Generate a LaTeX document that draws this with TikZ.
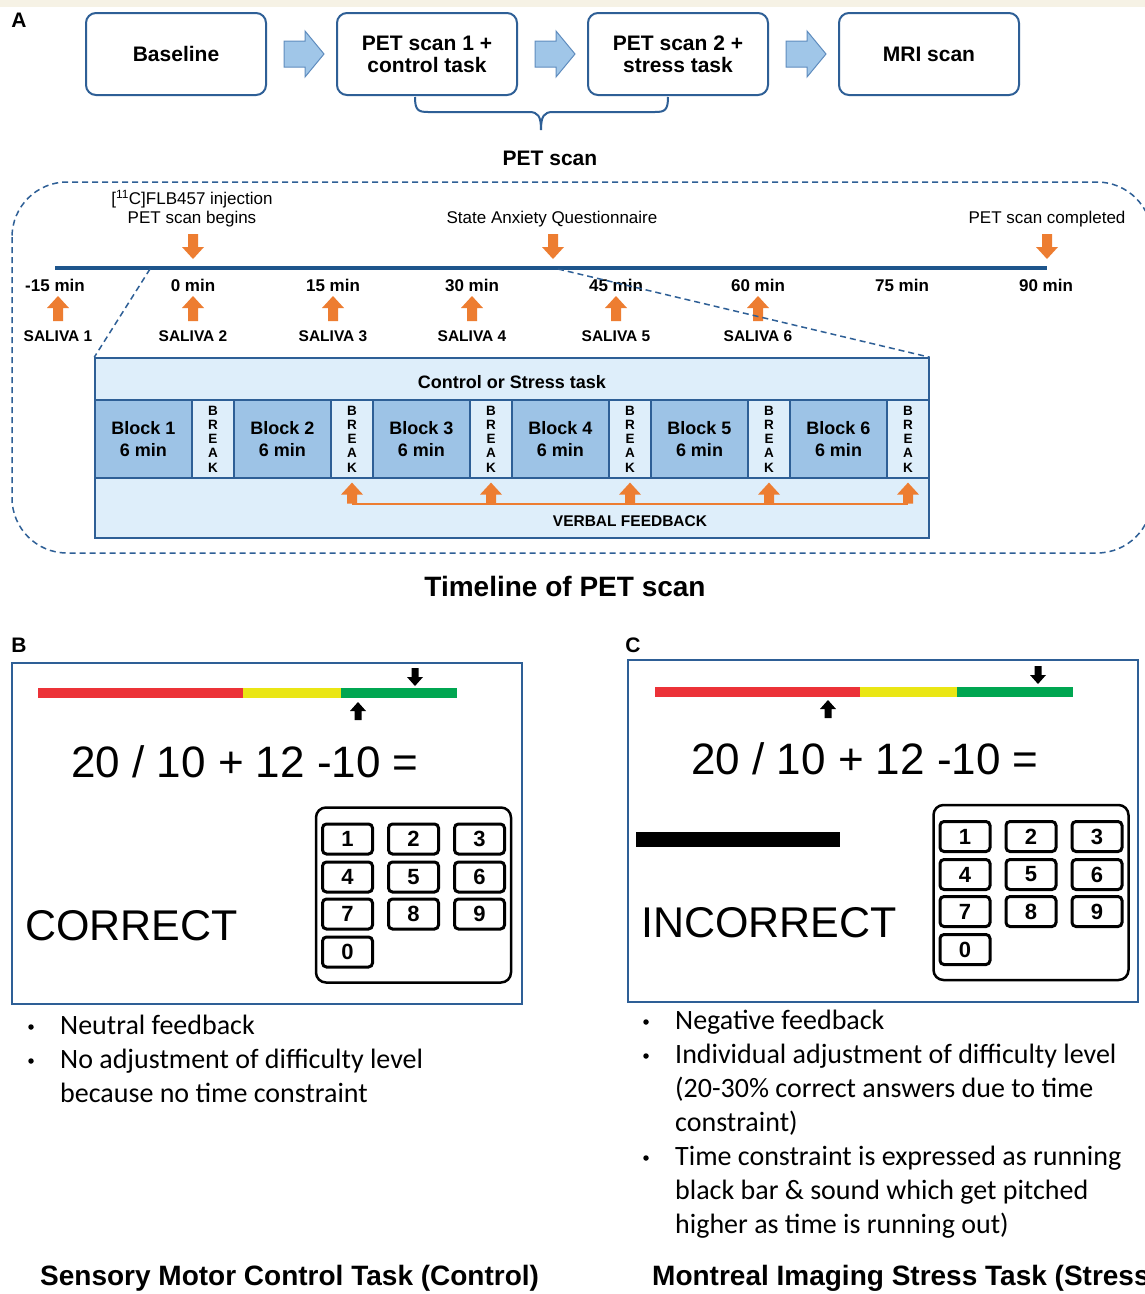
\documentclass[tikz,border=0pt]{standalone}
\usepackage{fontspec}
\setmainfont{Liberation Sans}
\newfontfamily\calfont{Carlito}
\usetikzlibrary{calc}

\definecolor{frameblue}{RGB}{46,95,150}
\definecolor{lineblue}{RGB}{30,85,140}
\definecolor{paleblue}{RGB}{222,238,250}
\definecolor{midblue}{RGB}{157,195,230}
\definecolor{arrowfill}{RGB}{160,198,232}
\definecolor{arrowedge}{RGB}{95,140,190}
\definecolor{orangeA}{RGB}{237,125,49}
\definecolor{barred}{RGB}{236,50,56}
\definecolor{baryellow}{RGB}{234,230,20}
\definecolor{bargreen}{RGB}{0,166,81}
\definecolor{topstrip}{RGB}{246,242,229}

% keypad of the task screen: #1 name, #2 centre
\newcommand\drawkeypad[2]{%
  \begin{scope}[shift={#2}]
    \node[padframe] (#1) at (0,0) {};
    \foreach \d/\cx/\cy in {1/-66/-56,2/0/-56,3/66/-56,4/-66/-18,5/0/-18,6/66/-18,7/-66/19,8/0/19,9/66/19,0/-66/57}
      \node[padkey] (#1-\d) at (\cx,\cy) {\d};
  \end{scope}}

\tikzset{
  stagebox/.style={draw=frameblue, line width=2pt, rounded corners=10pt, fill=white,
    minimum width=180pt, minimum height=82pt, align=center, inner sep=0pt,
    font=\fontsize{21}{22}\selectfont\bfseries},
  pics/flowarrow/.style={code={
    \filldraw[fill=arrowfill, draw=arrowedge, line width=1pt]
      (0,-13) -- (21,-13) -- (21,-23) -- (40,0) -- (21,23) -- (21,13) -- (0,13) -- cycle;}},
  pics/oarr/.style={code={
    \fill[orangeA] (-5,-#1) -- (5,-#1) -- (5,-12) -- (11,-12) -- (0,0) -- (-11,-12) -- (-5,-12) -- cycle;}},
  pics/oarr/.default=25,
  pics/karr/.style={code={
    \fill[black] (-3.5,-18) -- (3.5,-18) -- (3.5,-9) -- (8,-9) -- (0,0) -- (-8,-9) -- (-3.5,-9) -- cycle;}},
  timelab/.style={font=\fontsize{17}{20}\selectfont\bfseries, inner sep=0},
  salivalab/.style={font=\fontsize{15.5}{18}\selectfont\bfseries, inner sep=0},
  eventlab/.style={font=\fontsize{17}{20}\selectfont, inner sep=0},
  blockcell/.style={draw=frameblue, line width=1.2pt, fill=midblue, minimum height=78pt,
    minimum width=97pt, inner sep=0, align=center, font=\fontsize{18}{22}\selectfont\bfseries},
  breakcell/.style={draw=frameblue, line width=1.2pt, fill=paleblue, minimum height=78pt,
    minimum width=42pt, inner sep=0, align=center, font=\fontsize{13.5}{14.2}\selectfont\bfseries},
  panelbox/.style={draw=frameblue, line width=2pt, inner sep=0},
  padframe/.style={draw=black, line width=2.5pt, rounded corners=10pt, minimum width=195pt,
    minimum height=175pt, inner sep=0},
  padkey/.style={draw=black, line width=3pt, rounded corners=4pt, minimum width=50pt,
    minimum height=30pt, inner sep=0, font=\fontsize{22}{22}\selectfont\bfseries},
  sumtext/.style={font=\fontsize{44}{48}\selectfont, inner sep=0},
  verdict/.style={font=\fontsize{43}{48}\selectfont, inner sep=0, anchor=west},
  bulletline/.style={font=\calfont\fontsize{28}{30}\selectfont, inner sep=0, anchor=west,
    text height=19pt, text depth=6pt},
  bulletdot/.style={circle, fill=black, inner sep=0, minimum size=5.5pt},
  paneltitle/.style={font=\fontsize{28}{30}\selectfont\bfseries, inner sep=0, anchor=west},
  bigtitle/.style={font=\fontsize{28}{30}\selectfont\bfseries, inner sep=0},
  panelletter/.style={font=\fontsize{21}{24}\selectfont\bfseries, inner sep=0},
  zoomline/.style={draw=frameblue, line width=1.5pt, dash pattern=on 6pt off 4pt},
}

\begin{document}
\begin{tikzpicture}[x=1pt,y=-1pt]
\useasboundingbox (0,0) rectangle (1145,1294);
\clip (0,0) rectangle (1145,1294);
\fill[white] (0,0) rectangle (1145,1294);
\fill[topstrip] (0,0) rectangle (1145,7);

% ---------------- Panel A: study flow ----------------
\node[panelletter] (labA) at (19,20) {A};
\node[stagebox] (base) at (176,54) {Baseline};
\node[stagebox] (pet1) at (427,54) {PET scan 1 +\\control task};
\node[stagebox] (pet2) at (678,54) {PET scan 2 +\\stress task};
\node[stagebox] (mri)  at (929,54) {MRI scan};
\pic at ($(base.east)+(17,0)$) {flowarrow};
\pic at ($(pet1.east)+(17,0)$) {flowarrow};
\pic at ($(pet2.east)+(17,0)$) {flowarrow};

% brace grouping the two PET sessions
\coordinate (brL) at (415,97);
\coordinate (brR) at (668,97);
\coordinate (brTip) at (541,130);
\draw[frameblue, line width=2pt]
  (brL) .. controls (415,110) and (418,112) .. (428,112) -- (529,112)
  .. controls (538,112) and (541,116) .. (brTip)
  .. controls (541,116) and (544,112) .. (553,112) -- (655,112)
  .. controls (665,112) and (668,110) .. (brR);
\node[font=\fontsize{21}{24}\selectfont\bfseries, inner sep=0] (petlab) at (550,158) {PET scan};

% dashed frame around the scan timeline
\draw[zoomline, rounded corners=55pt] (12,182) rectangle (1152,553);

% timeline
\coordinate (tlL) at (55,268);
\coordinate (tlR) at (1047,268);
\draw[lineblue, line width=4pt] (tlL) -- (tlR);
\foreach \x/\t [count=\i] in {55/-15,193/0,333/15,472/30,616/45,758/60,902/75,1046/90}
  \node[timelab] (t\i) at (\x,285) {\t{} min};

% events above the line
\node[eventlab] (ev1a) at (192,199) {[\textsuperscript{11}C]FLB457 injection};
\node[eventlab] (ev1b) at (192,219) {PET scan begins};
\node[eventlab] (ev2) at (552,219) {State Anxiety Questionnaire};
\node[eventlab] (ev3) at (1047,219) {PET scan completed};
\pic at (193,259) {oarr};
\pic at (553,259) {oarr};
\pic at (1047,259) {oarr};

% saliva samples below the line
\foreach \x/\n in {58/1,193/2,333/3,472/4,616/5,758/6}{
  \pic[rotate=180] at (\x,296) {oarr};
  \node[salivalab] (sal\n) at (\x,336) {SALIVA \n};
}

% task blocks
\node[draw=frameblue, line width=1.5pt, fill=paleblue, minimum width=834pt,
      minimum height=180pt, inner sep=0] (taskbox) at (512,448) {};
\node[font=\fontsize{18}{22}\selectfont\bfseries, inner sep=0] (tasklab) at (512,382) {Control or Stress task};
\foreach \i in {1,...,6}{
  \pgfmathsetmacro\bx{95+139*(\i-1)}
  \node[blockcell] (blk\i) at (\bx+48.5,439) {Block \i\\6 min};
  \node[breakcell] (brk\i) at (\bx+118,439) {B\\R\\E\\A\\K};
}
\draw[orangeA, line width=2pt] ($(brk2.south)+(0,25)$) -- ($(brk6.south)+(0,25)$);
\foreach \i in {2,...,6}
  \pic[rotate=180] at ($(brk\i.south)+(0,4)$) {oarr=21};
\node[font=\fontsize{15.5}{18}\selectfont\bfseries, inner sep=0] (verbal) at (630,521) {VERBAL FEEDBACK};

% zoom lines from the timeline to the task blocks
\coordinate (zoomL) at (150,269);
\coordinate (zoomR) at (558,269);
\draw[zoomline] (zoomL) -- (taskbox.north west);
\draw[zoomline] (zoomR) -- (taskbox.north east);

\node[bigtitle] (tltitle) at (565,586) {Timeline of PET scan};

% ---------------- Panel B: control task ----------------
\node[panelletter] (labB) at (19,645) {B};
\node[panelbox, minimum width=510pt, minimum height=341pt] (scrB) at (267,833.5) {};
\fill[barred] (38,688) rectangle (243,698);
\fill[baryellow] (243,688) rectangle (341,698);
\fill[bargreen] (341,688) rectangle (457,698);
\pic at (415,686) {karr};
\pic[rotate=180] at (358,702) {karr};
\node[sumtext] (sumB) at (245,762) {20 / 10 + 12 -10 =};
\drawkeypad{padB}{(413.5,895)}
\node[verdict] (verB) at (25,926) {CORRECT};

\node[bulletdot] (dB1) at (31,1027) {};
\node[bulletline] (lB1) at (60,1028) {Neutral feedback};
\node[bulletdot] (dB2) at (31,1061) {};
\node[bulletline] (lB2) at (60,1062) {No adjustment of difficulty level};
\node[bulletline] (lB3) at (60,1096) {because no time constraint};

\node[paneltitle] (ttlB) at (40,1278) {Sensory Motor Control Task (Control)};

% ---------------- Panel C: stress task ----------------
\node[panelletter] (labC) at (633,645) {C};
\node[panelbox, minimum width=510pt, minimum height=342pt] (scrC) at (883,831) {};
\fill[barred] (655,687) rectangle (860,697);
\fill[baryellow] (860,687) rectangle (957,697);
\fill[bargreen] (957,687) rectangle (1073,697);
\pic at (1038,684) {karr};
\pic[rotate=180] at (828,700) {karr};
\node[sumtext] (sumC) at (865,759) {20 / 10 + 12 -10 =};
\fill[black] (636,832) rectangle (840,847);
\drawkeypad{padC}{(1031,892.5)}
\node[verdict] (verC) at (641,923) {INCORRECT};

\node[bulletdot] (dC1) at (646,1022) {};
\node[bulletline] (lC1) at (675,1023) {Negative feedback};
\node[bulletdot] (dC2) at (646,1056) {};
\node[bulletline] (lC2) at (675,1057) {Individual adjustment of difficulty level};
\node[bulletline] (lC3) at (675,1091) {(20-30\% correct answers due to time};
\node[bulletline] (lC4) at (675,1125) {constraint)};
\node[bulletdot] (dC5) at (646,1158) {};
\node[bulletline] (lC5) at (675,1159) {Time constraint is expressed as running};
\node[bulletline] (lC6) at (675,1193) {black bar \& sound which get pitched};
\node[bulletline] (lC7) at (675,1227) {higher as time is running out)};

\node[paneltitle] (ttlC) at (652,1278) {Montreal Imaging Stress Task (Stress)};
\end{tikzpicture}
\end{document}
